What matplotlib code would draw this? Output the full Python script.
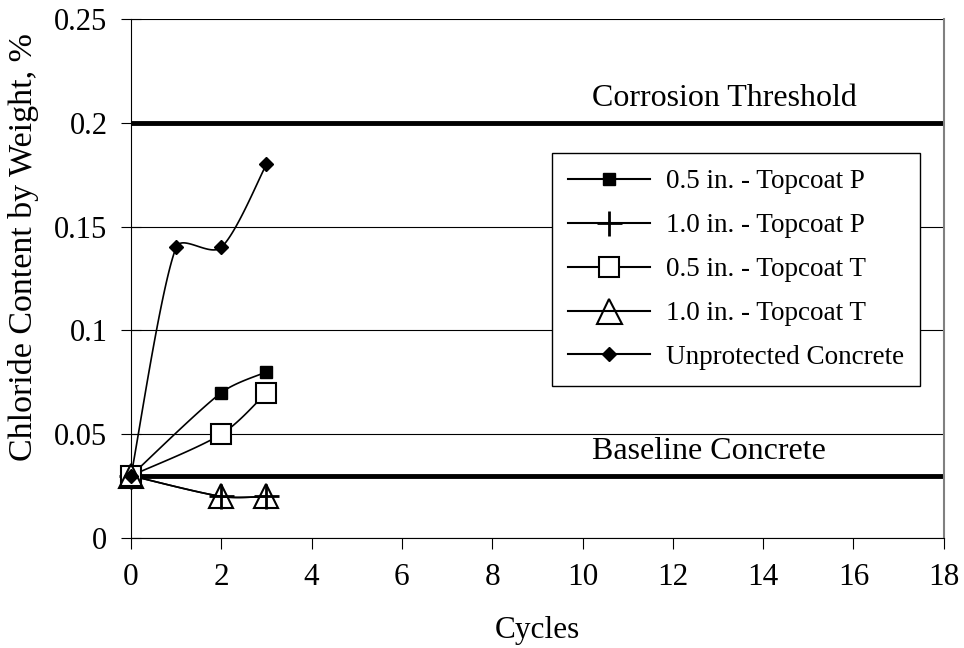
import numpy as np
import matplotlib.pyplot as plt

plt.rcParams['font.family'] = ['Liberation Serif', 'DejaVu Serif']

# data
cycles = [0, 2, 3]
p_05 = [0.03, 0.07, 0.08]
p_10 = [0.03, 0.02, 0.02]
t_05 = [0.03, 0.05, 0.07]
t_10 = [0.03, 0.02, 0.02]
unprot_cycles = [0, 1, 2, 3]
unprot = [0.03, 0.14, 0.14, 0.18]

corrosion_threshold = 0.2
baseline_concrete = 0.03


def smooth(ax, xs, ys, n=40):
    # Excel-like smoothed line, bezier built in screen space
    tr = ax.transData
    pts = tr.transform(np.column_stack([xs, ys]))
    ext = np.vstack([pts[:1], pts, pts[-1:]])
    out = [pts[0]]
    t = np.linspace(0, 1, n)[1:][:, None]
    for i in range(len(pts) - 1):
        p0, p3 = ext[i + 1], ext[i + 2]
        seg = np.linalg.norm(p3 - p0)
        a1 = (ext[i + 2] - ext[i]) / 6
        a2 = (ext[i + 3] - ext[i + 1]) / 6
        for a in (a1, a2):
            L = np.linalg.norm(a)
            if L > seg / 3:
                a *= (seg / 3) / L
        c1, c2 = p0 + a1, p3 - a2
        b = (1 - t) ** 3 * p0 + 3 * (1 - t) ** 2 * t * c1 + 3 * (1 - t) * t ** 2 * c2 + t ** 3 * p3
        out.extend(b)
    out = tr.inverted().transform(np.array(out))
    return out[:, 0], out[:, 1]


fig = plt.figure(figsize=(9.64, 6.48), dpi=100)
ax = fig.add_axes([0.1359, 0.1698, 0.8431, 0.8009])

ax.set_xlim(0, 18)
ax.set_ylim(0, 0.25)
ax.set_xticks(range(0, 19, 2))
ax.set_yticks([0, 0.05, 0.1, 0.15, 0.2, 0.25])
ax.set_yticklabels(['0', '0.05', '0.1', '0.15', '0.2', '0.25'])
ax.grid(axis='y', color='black', linewidth=0.8)
ax.tick_params(axis='y', direction='inout', length=14, width=0.8, labelsize=22, pad=10)
ax.tick_params(axis='x', direction='out', length=8, width=0.8, labelsize=22.5, pad=10)
for s in ['left', 'bottom']:
    ax.spines[s].set_color('black')
ax.spines['top'].set_visible(False)
ax.spines['right'].set_color('#808080')
ax.spines['right'].set_linewidth(1.5)

# threshold lines
ax.axhline(corrosion_threshold, color='black', linewidth=3.5, zorder=2)
ax.axhline(baseline_concrete, color='black', linewidth=3.5, zorder=2)
ax.text(10.2, corrosion_threshold + 0.0045, 'Corrosion Threshold', fontsize=23, va='bottom')
ax.text(10.2, baseline_concrete + 0.0045, 'Baseline Concrete', fontsize=23, va='bottom')

series = [
    (cycles, p_05, dict(marker='s', ms=9, mfc='black', mec='black'), '0.5 in. - Topcoat P'),
    (cycles, p_10, dict(marker='+', ms=18, mew=2, mec='black'), '1.0 in. - Topcoat P'),
    (cycles, t_05, dict(marker='s', ms=14, mfc='white', mec='black', mew=1.5), '0.5 in. - Topcoat T'),
    (cycles, t_10, dict(marker='^', ms=17, mfc='none', mec='black', mew=1.5), '1.0 in. - Topcoat T'),
    (unprot_cycles, unprot, dict(marker='D', ms=7.5, mfc='black', mec='black'), 'Unprotected Concrete'),
]

handles = []
for xs, ys, mk, label in series:
    sx, sy = smooth(ax, xs, ys)
    ax.plot(sx, sy, color='black', linewidth=1.2, zorder=3)
    ax.plot(xs, ys, linestyle='none', zorder=4, clip_on=False, **mk)
    leg_mk = dict(mk)
    if mk['marker'] in ('s', '^') and mk['mfc'] != 'black':
        leg_mk['ms'] = mk['ms'] + 1
    h, = ax.plot([], [], color='black', linewidth=1.5, **leg_mk)
    handles.append(h)

leg = ax.legend(handles, [s[3] for s in series], loc='upper left',
                bbox_to_anchor=(0.518, 0.742), borderaxespad=0, fontsize=19.5,
                handlelength=3, handletextpad=0.6, labelspacing=0.7,
                borderpad=0.6, fancybox=False, framealpha=1, edgecolor='black')
leg.get_frame().set_linewidth(1)

ax.set_xlabel('Cycles', fontsize=22.5, labelpad=17)
fig.text(24 / 964, 1 - 247 / 648, 'Chloride Content by Weight, %', fontsize=24.5,
         rotation=90, ha='center', va='center')

fig.savefig('out.png', dpi=100)
